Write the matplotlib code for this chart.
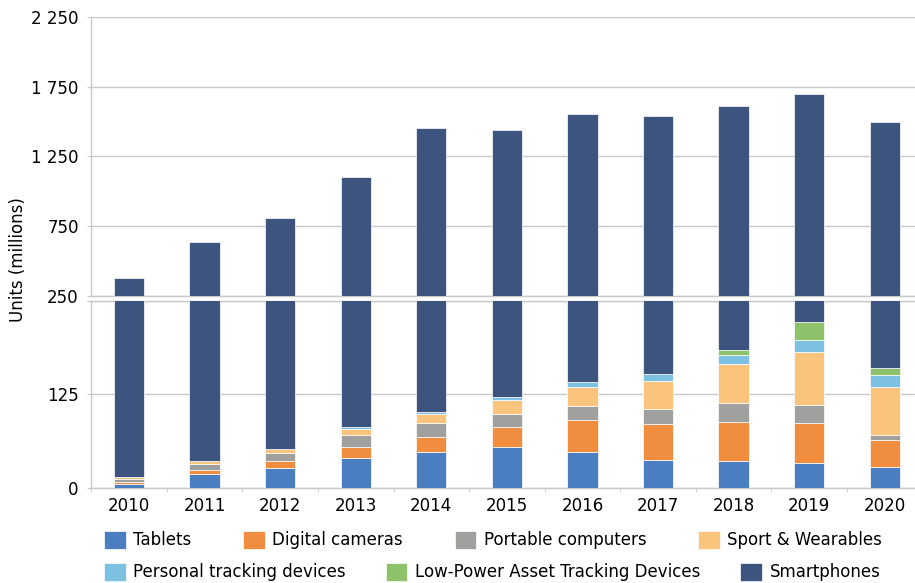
"""Stacked unit shipments by device type, broken y axis"""

import matplotlib.pyplot as plt
import numpy as np
from matplotlib.ticker import FuncFormatter, FixedLocator

# data (units, millions)
years = ["2010", "2011", "2012", "2013", "2014", "2015", "2016", "2017", "2018", "2019", "2020"]
tablets = [6, 19, 27, 41, 49, 55, 49, 38, 36, 34, 29]
digital_cameras = [2, 6, 9, 14, 19.5, 27, 42, 47, 52, 53, 35]
portable_computers = [4, 7, 11, 16, 18, 17, 19, 21, 25, 24, 7]
sport_wearables = [3, 4, 6, 8, 12, 18, 25, 37, 52, 70, 64]
personal_tracking = [0, 0, 0, 2.5, 3, 4.5, 6, 9, 13, 17, 16]
low_power_tracking = [0, 0, 0, 0, 0, 0, 0, 0, 6, 23, 9]
smartphones = [365, 602, 755, 1022, 1355, 1321, 1416, 1390, 1430, 1479, 1339]

series = [
    ("Tablets", tablets, "#4a7ec0"),
    ("Digital cameras", digital_cameras, "#f18d3e"),
    ("Portable computers", portable_computers, "#a0a09e"),
    ("Sport & Wearables", sport_wearables, "#fac47c"),
    ("Personal tracking devices", personal_tracking, "#7cc0e2"),
    ("Low-Power Asset Tracking Devices", low_power_tracking, "#8ec26a"),
    ("Smartphones", smartphones, "#3c547e"),
]

GRID = "#c8c8c8"
plt.rcParams["font.size"] = 12

fig = plt.figure(figsize=(9.15, 5.83), dpi=100)
ax_top = fig.add_axes([0.0997, 0.4926, 0.9085, 0.4782])
ax_bot = fig.add_axes([0.0997, 0.1624, 0.9085, 0.3221])

x = np.arange(len(years))
handles = []
for ax in (ax_top, ax_bot):
    bottom = np.zeros(len(years))
    for name, vals, col in series:
        vals = np.array(vals, dtype=float)
        b = ax.bar(x, vals, 0.4, bottom=bottom, color=col, edgecolor="white",
                   linewidth=0.5, label=name, zorder=3)
        bottom += vals
        if ax is ax_bot:
            handles.append(b)

fmt = FuncFormatter(lambda v, p: f"{v:,.0f}".replace(",", " "))

ax_top.set_ylim(250, 2250)
ax_top.yaxis.set_major_locator(FixedLocator([250, 750, 1250, 1750, 2250]))
ax_bot.set_ylim(0, 250)
ax_bot.yaxis.set_major_locator(FixedLocator([0, 125, 250]))
ax_bot.set_yticklabels(["0", "125", ""])
ax_top.yaxis.set_major_formatter(fmt)

for ax in (ax_top, ax_bot):
    ax.set_xlim(-0.5, len(years) - 0.5)
    ax.grid(axis="y", color=GRID, linewidth=1, zorder=0)
    for s in ("top", "right"):
        ax.spines[s].set_visible(False)
    for s in ("left", "bottom"):
        ax.spines[s].set_color(GRID)
        ax.spines[s].set_linewidth(1)
    ax.tick_params(axis="y", length=3, color=GRID, pad=6, labelsize=12)

ax_bot.spines["top"].set_visible(True)
ax_bot.spines["top"].set_color(GRID)
ax_bot.spines["top"].set_linewidth(1)

ax_top.set_xticks([])
ax_bot.set_xticks(x)
ax_bot.set_xticklabels(years)
ax_bot.xaxis.set_minor_locator(FixedLocator(np.arange(len(years) + 1) - 0.5))
ax_bot.tick_params(axis="x", which="major", length=0, pad=6.5, labelsize=12)
ax_bot.tick_params(axis="x", which="minor", length=3, color=GRID)

fig.text(0.02, 1 - 260 / 583, "Units (millions)", rotation=90,
         ha="center", va="center", fontsize=12)

leg_kw = dict(frameon=False, loc="center left", borderpad=0, borderaxespad=0,
              handlelength=1.3, handleheight=1.3, handletextpad=0.45, fontsize=12)
fig.legend(handles[:4], [s[0] for s in series[:4]], ncol=4,
           bbox_to_anchor=(104 / 915, 1 - 540 / 583), columnspacing=3.1, **leg_kw)
fig.legend(handles[4:], [s[0] for s in series[4:]], ncol=3,
           bbox_to_anchor=(104 / 915, 1 - 572 / 583), columnspacing=2.4, **leg_kw)

fig.savefig("out.png", dpi=100)
